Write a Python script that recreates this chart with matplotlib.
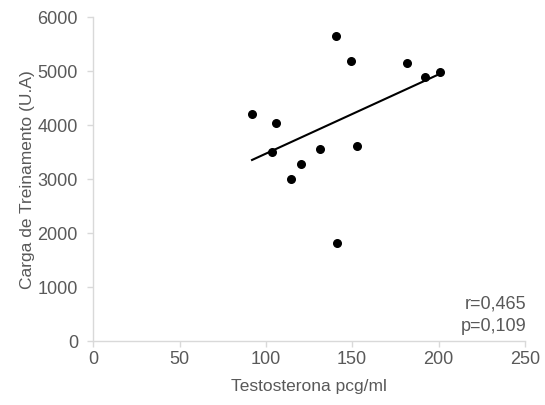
import matplotlib
matplotlib.use("Agg")
import matplotlib.pyplot as plt
import numpy as np

# Testosterone (pcg/ml) vs training load (U.A)
testosterona = [92.0, 106.1, 103.4, 114.4, 120.2, 131.2, 140.8, 141.2, 149.1, 152.9, 181.9, 192.3, 200.6]
carga = [4209, 4037, 3511, 3000, 3278, 3556, 5659, 1820, 5185, 3617, 5160, 4901, 4987]

x_ticks = [0, 50, 100, 150, 200, 250]
y_ticks = [0, 1000, 2000, 3000, 4000, 5000, 6000]

TEXT = "#595959"
AXIS = "#d9d9d9"

plt.rcParams["font.family"] = ["Liberation Sans", "DejaVu Sans"]

fig = plt.figure(figsize=(5.45, 4.05), dpi=100)
ax = fig.add_axes([0.171, 0.157, 0.792, 0.8])

ax.scatter(testosterona, carga, s=30, color="black", zorder=3)

# linear trend line over the data range
slope, intercept = np.polyfit(testosterona, carga, 1)
xs = np.array([min(testosterona), max(testosterona)])
ax.plot(xs, slope * xs + intercept, color="black", linewidth=1.5, zorder=2)

ax.set_xlim(0, 250)
ax.set_ylim(0, 6000)
ax.set_xticks(x_ticks)
ax.set_yticks(y_ticks)

for side in ["top", "right"]:
    ax.spines[side].set_visible(False)
for side in ["left", "bottom"]:
    ax.spines[side].set_color(AXIS)
    ax.spines[side].set_linewidth(1.0)

ax.tick_params(colors=AXIS, labelcolor=TEXT, labelsize=13, length=4, width=1.0)
ax.tick_params(axis="y", pad=7)
ax.tick_params(axis="x", pad=3)
ax.set_xlabel("Testosterona pcg/ml", color=TEXT, fontsize=12.5, labelpad=8)
ax.set_ylabel("Carga de Treinamento (U.A)", color=TEXT, fontsize=12.5, labelpad=2)

ax.text(1.003, 0.08, "r=0,465\np=0,109", transform=ax.transAxes, ha="right",
        va="center", color=TEXT, fontsize=13, linespacing=1.45)

fig.savefig("out.png", dpi=100)
